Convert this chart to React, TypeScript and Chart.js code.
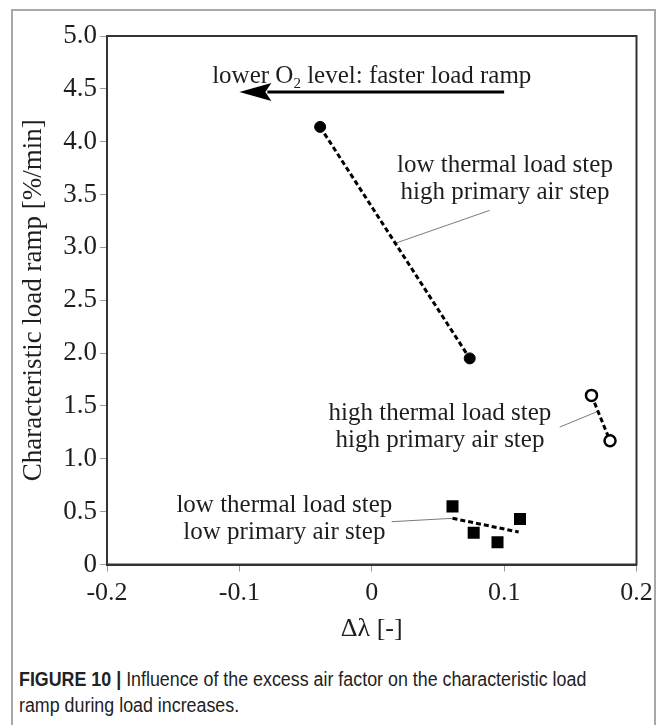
import { useEffect, useRef } from "react";
import { Chart, registerables } from "chart.js";

Chart.register(...registerables);

// Axis ticks
const xTickValues = [-0.2, -0.1, 0, 0.1, 0.2];
const xTickLabels = ["-0.2", "-0.1", "0", "0.1", "0.2"];
const yTickValues = [0, 0.5, 1, 1.5, 2, 2.5, 3, 3.5, 4, 4.5, 5];
const yTickLabels = ["0", "0.5", "1.0", "1.5", "2.0", "2.5", "3.0", "3.5", "4.0", "4.5", "5.0"];

// Low thermal load step, high primary air step (filled circles)
const lowHighX = [-0.039, 0.074];
const lowHighY = [4.14, 1.95];

// High thermal load step, high primary air step (open circles)
const highHighX = [0.166, 0.18];
const highHighY = [1.6, 1.17];

// Low thermal load step, low primary air step (squares) and its trend line
const lowLowX = [0.061, 0.077, 0.095, 0.112];
const lowLowY = [0.55, 0.3, 0.21, 0.43];
const lowLowTrendX = [0.061, 0.111];
const lowLowTrendY = [0.437, 0.307];

// Leader lines from the group labels to their lines [x0, y0, x1, y1]
const leaderLowHigh = [0.018, 3.04, 0.089, 3.35];
const leaderHighHigh = [0.142, 1.3, 0.171, 1.45];
const leaderLowLow = [0.015, 0.405, 0.061, 0.437];

// Group labels: [anchor x, anchor y] in data units, two text lines each
const labelLowHighPos = [0.1006, 3.65];
const labelLowHighText = ["low thermal load step", "high primary air step"];
const labelHighHighPos = [0.0515, 1.306];
const labelHighHighText = ["high thermal load step", "high primary air step"];
const labelLowLowPos = [-0.066, 0.43];
const labelLowLowText = ["low thermal load step", "low primary air step"];

// Arrow: from x0 to x1 at level y, with its caption above
const arrowX = [0.1, -0.1];
const arrowY = 4.47;
const arrowTextPos = [0.0, 4.63];

const SERIF = "'Liberation Serif', 'Times New Roman', serif";
const INK = "#1e1e1e";

const toPts = (xs: number[], ys: number[]) => xs.map((x, i) => ({ x, y: ys[i] }));
const segment = (s: number[]) => [
  { x: s[0], y: s[1] },
  { x: s[2], y: s[3] },
];

const annotationPlugin = {
  id: "figureAnnotations",
  afterDatasetsDraw(chart: any) {
    const { ctx, chartArea, scales } = chart;
    const xs = scales.x;
    const ys = scales.y;
    ctx.save();

    // closed frame round the plot area
    ctx.strokeStyle = "#333";
    ctx.lineWidth = 2;
    ctx.strokeRect(
      chartArea.left,
      chartArea.top,
      chartArea.right - chartArea.left,
      chartArea.bottom - chartArea.top
    );

    // two-line group labels
    ctx.fillStyle = INK;
    ctx.font = `25px ${SERIF}`;
    ctx.textAlign = "center";
    ctx.textBaseline = "middle";
    const twoLines = (pos: number[], lines: string[]) => {
      const px = xs.getPixelForValue(pos[0]);
      const py = ys.getPixelForValue(pos[1]);
      ctx.fillText(lines[0], px, py - 13.5);
      ctx.fillText(lines[1], px, py + 13.5);
    };
    twoLines(labelLowHighPos, labelLowHighText);
    twoLines(labelHighHighPos, labelHighHighText);
    twoLines(labelLowLowPos, labelLowLowText);

    // arrow
    const ax0 = xs.getPixelForValue(arrowX[0]);
    const ax1 = xs.getPixelForValue(arrowX[1]);
    const ay = ys.getPixelForValue(arrowY);
    const head = 32;
    ctx.strokeStyle = "#000";
    ctx.lineWidth = 3;
    ctx.beginPath();
    ctx.moveTo(ax0, ay);
    ctx.lineTo(ax1 + head - 4, ay);
    ctx.stroke();
    ctx.fillStyle = "#000";
    ctx.beginPath();
    ctx.moveTo(ax1, ay);
    ctx.lineTo(ax1 + head, ay - 9);
    ctx.lineTo(ax1 + head - 6, ay);
    ctx.lineTo(ax1 + head, ay + 9);
    ctx.closePath();
    ctx.fill();

    // arrow caption with subscript
    const tx = xs.getPixelForValue(arrowTextPos[0]);
    const ty = ys.getPixelForValue(arrowTextPos[1]);
    const big = `25px ${SERIF}`;
    const small = `15px ${SERIF}`;
    const partA = "lower O";
    const partB = "2";
    const partC = " level: faster load ramp";
    ctx.font = big;
    const wA = ctx.measureText(partA).width;
    const wC = ctx.measureText(partC).width;
    ctx.font = small;
    const wB = ctx.measureText(partB).width;
    let cx = tx - (wA + wB + wC) / 2;
    ctx.fillStyle = INK;
    ctx.textAlign = "left";
    ctx.textBaseline = "alphabetic";
    const base = ty + 8;
    ctx.font = big;
    ctx.fillText(partA, cx, base);
    cx += wA;
    ctx.font = small;
    ctx.fillText(partB, cx, base + 5);
    cx += wB;
    ctx.font = big;
    ctx.fillText(partC, cx, base);

    ctx.restore();
  },
};

export default function App() {
  const canvasRef = useRef<HTMLCanvasElement | null>(null);

  useEffect(() => {
    const canvas = canvasRef.current;
    if (!canvas) return;

    const leader = (seg: number[]) => ({
      data: segment(seg),
      showLine: true,
      borderColor: "#7a7a7a",
      borderWidth: 1,
      pointRadius: 0,
      order: 5,
    });

    const chart = new Chart(canvas, {
      type: "scatter",
      data: {
        datasets: [
          {
            data: toPts(lowHighX, lowHighY),
            showLine: true,
            borderColor: "#000",
            borderWidth: 3,
            borderDash: [5, 3],
            pointRadius: 5.5,
            pointBackgroundColor: "#000",
            pointBorderColor: "#000",
            pointBorderWidth: 1,
            order: 1,
          },
          {
            data: toPts(highHighX, highHighY),
            showLine: true,
            borderColor: "#000",
            borderWidth: 3,
            borderDash: [5, 3],
            pointRadius: 5.5,
            pointBackgroundColor: "#fff",
            pointBorderColor: "#000",
            pointBorderWidth: 2.5,
            order: 1,
          },
          {
            data: toPts(lowLowX, lowLowY),
            showLine: false,
            pointStyle: "rect",
            pointRadius: 8.5,
            pointBackgroundColor: "#000",
            pointBorderColor: "#000",
            pointBorderWidth: 0,
            order: 1,
          },
          {
            data: toPts(lowLowTrendX, lowLowTrendY),
            showLine: true,
            borderColor: "#000",
            borderWidth: 3,
            borderDash: [5, 3],
            pointRadius: 0,
            order: 2,
          },
          leader(leaderLowHigh),
          leader(leaderHighHigh),
          leader(leaderLowLow),
        ],
      },
      options: {
        responsive: false,
        animation: false,
        events: [],
        layout: { padding: { top: 36, right: 28.5, left: 0, bottom: 0 } },
        plugins: {
          legend: { display: false },
          tooltip: { enabled: false },
        },
        scales: {
          x: {
            type: "linear",
            min: -0.2,
            max: 0.2,
            afterBuildTicks: (s: any) => {
              s.ticks = xTickValues.map((v) => ({ value: v }));
            },
            afterFit: (s: any) => {
              s.height = 85.5;
            },
            ticks: {
              callback: (_v: any, i: number) => xTickLabels[i],
              font: { family: SERIF, size: 26 },
              color: INK,
              padding: 6,
              maxRotation: 0,
              autoSkip: false,
            },
            grid: { drawOnChartArea: false, tickLength: 7, color: "#9a9a9a" },
            border: { color: "#333", width: 2 },
            title: {
              display: true,
              text: "Δλ [-]",
              font: { family: SERIF, size: 26 },
              color: INK,
              padding: { top: 2, bottom: 5 },
            },
          },
          y: {
            type: "linear",
            min: 0,
            max: 5,
            afterBuildTicks: (s: any) => {
              s.ticks = yTickValues.map((v) => ({ value: v }));
            },
            afterFit: (s: any) => {
              s.width = 107;
            },
            ticks: {
              callback: (_v: any, i: number) => yTickLabels[i],
              font: { family: SERIF, size: 27 },
              color: INK,
              padding: 3,
              autoSkip: false,
            },
            grid: { drawOnChartArea: false, tickLength: 7, color: "#9a9a9a" },
            border: { color: "#333", width: 2 },
            title: {
              display: true,
              text: "Characteristic load ramp [%/min]",
              font: { family: SERIF, size: 27 },
              color: INK,
              padding: { top: 18, bottom: 0 },
            },
          },
        },
      },
      plugins: [annotationPlugin],
    } as any);

    return () => chart.destroy();
  }, []);

  return (
    <div
      style={{
        position: "fixed",
        left: 0,
        top: 0,
        width: 665,
        height: 725,
        overflow: "hidden",
        background: "#fff",
      }}
    >
      <div
        style={{
          position: "absolute",
          left: 11,
          top: 9,
          width: 645,
          height: 800,
          boxSizing: "border-box",
          border: "2px solid #a8a8a8",
        }}
      />
      <canvas
        ref={canvasRef}
        width={665}
        height={650}
        style={{ position: "absolute", left: 0, top: 0, display: "block" }}
      />
      <div
        style={{
          position: "absolute",
          left: 19,
          top: 666,
          whiteSpace: "nowrap",
          fontFamily: "'Liberation Sans', Arial, sans-serif",
          fontSize: 19.5,
          lineHeight: "26px",
          color: "#222",
          transform: "scale(0.915, 1)",
          transformOrigin: "left top",
        }}
      >
        <span style={{ fontWeight: "bold" }}>FIGURE 10 | </span>
        Influence of the excess air factor on the characteristic load
        <br />
        ramp during load increases.
      </div>
    </div>
  );
}
